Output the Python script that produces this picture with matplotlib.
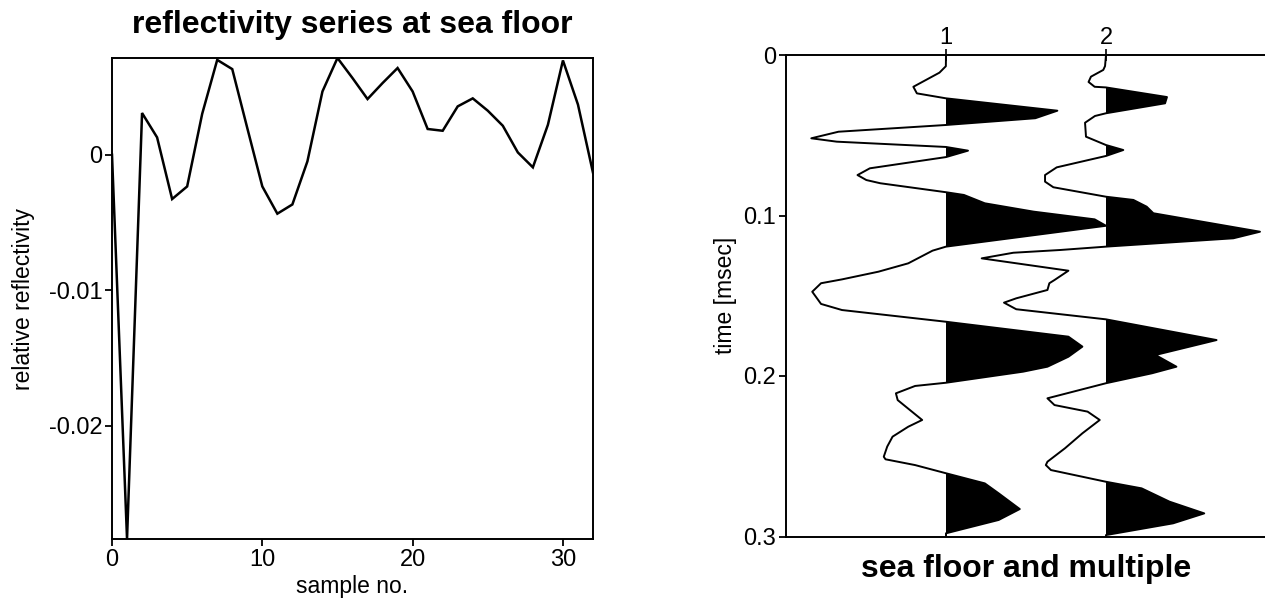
import numpy as np
import matplotlib
matplotlib.use("Agg")
import matplotlib.pyplot as plt

plt.rcParams['font.family'] = ['Liberation Sans', 'DejaVu Sans']

# ---- reflectivity series at the sea floor ----
sample_no = list(range(33))
reflectivity = [
    0.0, -0.02836, 0.00308, 0.00128, -0.00327, -0.00234, 0.00302, 0.00700,
    0.00632, 0.00197, -0.00234, -0.00435, -0.00367, -0.00049, 0.00467, 0.00714,
    0.00566, 0.00411, 0.00529, 0.00640, 0.00467, 0.00190, 0.00177, 0.00357,
    0.00416, 0.00325, 0.00214, 0.00017, -0.00093, 0.00221, 0.00696, 0.00370,
    -0.00133,
]
left_xticks = [0, 10, 20, 30]
left_yticks = [0, -0.01, -0.02]
left_yticklabels = ["0", "-0.01", "-0.02"]

# ---- seismic traces: sea floor (1) and multiple (2) ----
trace1_time = [
    0.0, 0.007, 0.011, 0.0198, 0.0239, 0.027, 0.0347, 0.0394, 0.0436, 0.0478,
    0.0519, 0.054, 0.0573, 0.0596, 0.0636, 0.0706, 0.0748, 0.0779, 0.0799, 0.0855,
    0.0872, 0.0924, 0.0976, 0.1024, 0.1064, 0.1194, 0.1219, 0.1298, 0.135, 0.1398,
    0.1422, 0.1475, 0.1551, 0.1589, 0.1662, 0.1755, 0.1817, 0.188, 0.1942, 0.1973,
    0.2042, 0.2062, 0.2108, 0.215, 0.2274, 0.2316, 0.2378, 0.244, 0.2503, 0.2519,
    0.2555, 0.2606, 0.2669, 0.2731, 0.2829, 0.2897, 0.298, 0.3,
]
trace1_amp = [
    0.0, -0.001, -0.041, -0.204, -0.182, 0.0, 0.696, 0.558, 0.0, -0.672,
    -0.842, -0.683, 0.0, 0.1375, 0.0, -0.476, -0.553, -0.498, -0.411, 0.0,
    0.112, 0.2425, 0.5475, 0.929, 1.0, 0.0, -0.084, -0.236, -0.422, -0.65,
    -0.781, -0.836, -0.781, -0.65, 0.0, 0.765, 0.8525, 0.765, 0.634, 0.482,
    0.0, -0.193, -0.313, -0.302, -0.149, -0.236, -0.334, -0.3675, -0.389, -0.378,
    -0.193, 0.0, 0.2425, 0.329, 0.461, 0.329, 0.0, 0.0,
]
trace2_time = [
    0.0, 0.0069, 0.0093, 0.0135, 0.0168, 0.0198, 0.0202, 0.0262, 0.0301, 0.0363,
    0.038, 0.0422, 0.0509, 0.0561, 0.0592, 0.0629, 0.07, 0.0748, 0.0789, 0.0824,
    0.0883, 0.0903, 0.0945, 0.0986, 0.1101, 0.1142, 0.1194, 0.1215, 0.1232, 0.1267,
    0.1344, 0.1402, 0.1422, 0.1464, 0.1516, 0.1543, 0.1584, 0.1647, 0.1776, 0.1869,
    0.1942, 0.1983, 0.2045, 0.2139, 0.2181, 0.2222, 0.2274, 0.2357, 0.245, 0.2534,
    0.2555, 0.2586, 0.2659, 0.27, 0.2783, 0.2856, 0.2918, 0.2991, 0.3,
]
trace2_amp = [
    0.0, -0.006, -0.017, -0.094, -0.109, -0.071, 0.0, 0.381, 0.369, 0.0,
    -0.069, -0.131, -0.125, 0.0, 0.108, 0.0, -0.308, -0.381, -0.381, -0.329,
    0.0, 0.171, 0.254, 0.296, 0.9625, 0.796, 0.0, -0.2875, -0.579, -0.777,
    -0.235, -0.322, -0.354, -0.366, -0.561, -0.6375, -0.561, 0.0, 0.691, 0.309,
    0.44, 0.2875, 0.0, -0.366, -0.322, -0.115, -0.039, -0.1475, -0.256, -0.366,
    -0.376, -0.344, 0.0, 0.2225, 0.397, 0.614, 0.419, 0.0, 0.0,
]
trace_positions = [1, 2]
trace_labels = ["1", "2"]
right_yticks = [0, 0.1, 0.2, 0.3]
right_yticklabels = ["0", "0.1", "0.2", "0.3"]

W, H = 1265, 600
fig = plt.figure(figsize=(W / 100, H / 100), dpi=100)

TICK_FS = 17
LABEL_FS = 16.5
TITLE_FS = 23

def frac(x0, y0, x1, y1):
    return [x0 / W, 1 - y1 / H, (x1 - x0) / W, (y1 - y0) / H]

# left panel
axL = fig.add_axes(frac(112, 58, 593, 539))
axL.plot(sample_no, reflectivity, color="black", lw=1.8, solid_joinstyle="miter")
axL.set_xlim(0, 32)
axL.set_ylim(min(reflectivity), max(reflectivity))
axL.set_xticks(left_xticks)
axL.set_yticks(left_yticks)
axL.set_yticklabels(left_yticklabels)
axL.tick_params(direction="out", length=5, width=1.3, labelsize=TICK_FS, pad=2)
for s in axL.spines.values():
    s.set_linewidth(1.4)
axL.set_xlabel("sample no.", fontsize=LABEL_FS, labelpad=3)
axL.set_ylabel("relative reflectivity", fontsize=LABEL_FS, labelpad=10)
axL.set_title("reflectivity series at sea floor", fontsize=TITLE_FS,
              fontweight="bold", pad=18)

# right panel: wiggle traces with positive lobes filled
axR = fig.add_axes(frac(786, 55, 1266, 536.5))
for pos, t, a in [(trace_positions[0], trace1_time, trace1_amp),
                  (trace_positions[1], trace2_time, trace2_amp)]:
    t = np.asarray(t)
    a = np.asarray(a)
    x = pos + a
    axR.fill_betweenx(t, pos, x, where=a >= 0, interpolate=True,
                      color="black", lw=0)
    axR.plot(x, t, color="black", lw=1.4)
axR.set_xlim(0, 3)
axR.set_ylim(0.3, 0)
axR.xaxis.tick_top()
axR.set_xticks(trace_positions)
axR.set_xticklabels(trace_labels)
axR.set_yticks(right_yticks)
axR.set_yticklabels(right_yticklabels)
axR.tick_params(axis="x", direction="inout", length=8, width=1.2,
                labelsize=TICK_FS, pad=0)
axR.tick_params(axis="y", direction="out", length=5, width=1.3,
                labelsize=TICK_FS, pad=2)
for s in axR.spines.values():
    s.set_linewidth(1.4)
axR.set_ylabel("time [msec]", fontsize=LABEL_FS, labelpad=5)
axR.text(0.5, -0.068, "sea floor and multiple", transform=axR.transAxes,
         ha="center", va="center", fontsize=TITLE_FS, fontweight="bold")

fig.savefig("out.png", dpi=100, facecolor="white")
